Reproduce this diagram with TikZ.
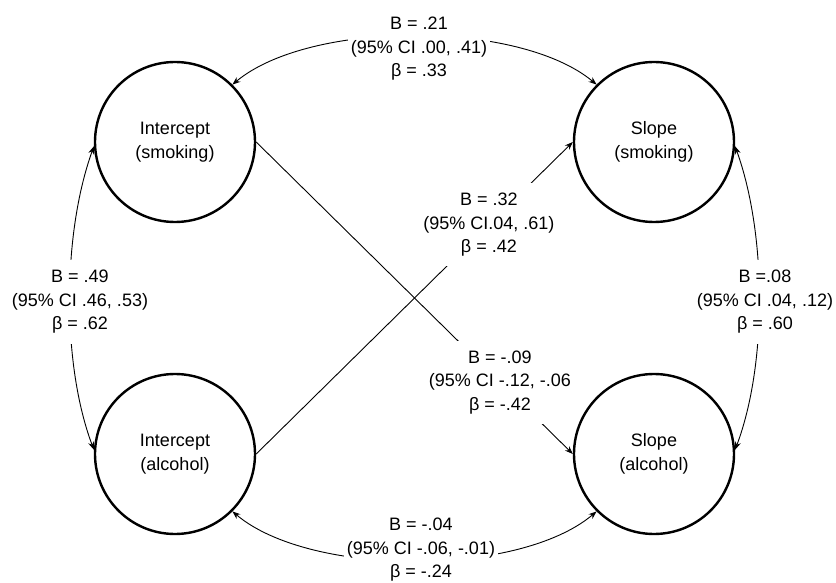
\documentclass[tikz,border=0pt]{standalone}
\usepackage{fontspec}
\setmainfont{Liberation Sans}
\usetikzlibrary{arrows.meta}
\begin{document}
\begin{tikzpicture}[x=1pt,y=-1pt,
  latent/.style={circle,draw,line width=2.4pt,minimum size=160pt,inner sep=0pt,align=center,font=\fontsize{18}{24}\selectfont},
  lbl/.style={fill=white,align=center,inner xsep=3pt,inner ysep=10pt,font=\fontsize{18}{23.5}\selectfont},
  conn/.style={line width=0.9pt},
  tipone/.style={conn,-{Stealth[length=8pt,width=6pt]}},
  tipboth/.style={conn,{Stealth[length=8pt,width=6pt]}-{Stealth[length=8pt,width=6pt]}}
]
\useasboundingbox (0,0) rectangle (836,583);
\node[latent] (IS) at (175,142) {Intercept\\(smoking)};
\node[latent] (SS) at (654,142) {Slope\\(smoking)};
\node[latent] (IA) at (175,454) {Intercept\\(alcohol)};
\node[latent] (SA) at (654,454) {Slope\\(alcohol)};
% covariances
\draw[tipboth] (IS.45) .. controls (310,20) and (519,20) .. (SS.135);
\node[lbl] (Ltop) at (419,49) {B = .21\\(95\% CI .00, .41)\\β = .33};
\draw[tipboth] (IA.-45) .. controls (310,577) and (519,577) .. (SA.-135);
\node[lbl,inner ysep=1pt] (Lbot) at (421,550) {B = -.04\\(95\% CI -.06, -.01)\\β = -.24};
\draw[tipboth] (IS.183) .. controls (62,235) and (62,365) .. (IA.177);
\node[lbl] (Lleft) at (80,302) {B = .49\\(95\% CI .46, .53)\\β = .62};
\draw[tipboth] (SS.-3) .. controls (767,235) and (767,365) .. (SA.3);
\node[lbl] (Lright) at (765,302) {B =.08\\(95\% CI .04, .12)\\β = .60};
% cross paths
\draw[tipone] (IS.east) -- node[lbl,pos=0.77,inner xsep=1pt] (Lx1) {B = -.09\\(95\% CI -.12, -.06\\β = -.42} (SA.west);
\draw[tipone] (IA.east) -- node[lbl,pos=0.735,inner xsep=1pt] (Lx2) {B = .32\\(95\% CI.04, .61)\\β = .42} (SS.west);
\end{tikzpicture}
\end{document}
